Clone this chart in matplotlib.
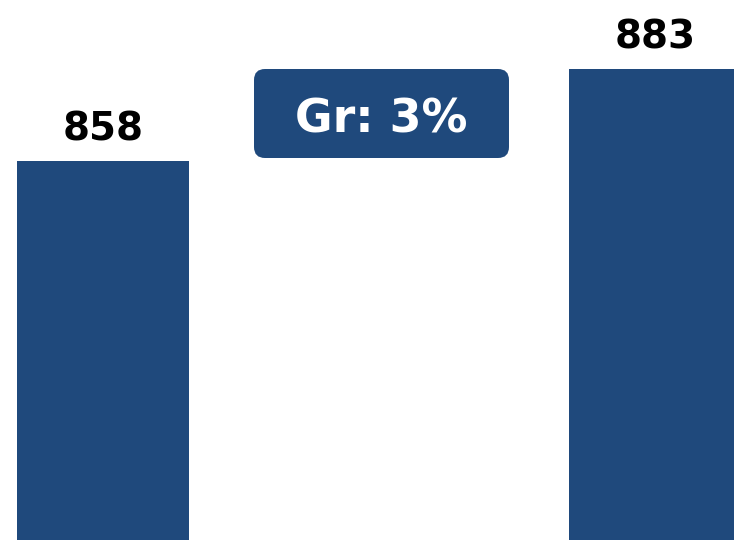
import matplotlib.pyplot as plt
from matplotlib.patches import FancyBboxPatch
from matplotlib.transforms import IdentityTransform

years = ['A', 'B']
values = [858, 883]
growth_label = 'Gr: 3%'

blue = '#1f497c'

fig = plt.figure(figsize=(7.34, 5.4), dpi=100)
ax = fig.add_axes([0, 0, 1, 1])

x = range(len(values))
ax.bar(x, values, width=172 / 552, color=blue)

for xi, v in zip(x, values):
    ax.annotate(str(v), (xi, v), xytext=(0, 9), textcoords='offset points',
                ha='center', va='bottom', fontsize=28, fontweight='bold',
                color='black')

ax.set_xlim(-103 / 552, 1 + 79 / 552)
ax.set_ylim(755, 901.7)
ax.axis('off')

# growth badge, placed in pixel coordinates
box = FancyBboxPatch((254, 540 - 158), 255, 89,
                     boxstyle='round,pad=0,rounding_size=11',
                     transform=IdentityTransform(), facecolor=blue,
                     edgecolor='none')
fig.patches.append(box)
fig.text(381.5 / 734, 1 - 133 / 540, growth_label, ha='center', va='baseline',
         fontsize=33, fontweight='bold', color='white')

fig.savefig('out.png', dpi=100)
